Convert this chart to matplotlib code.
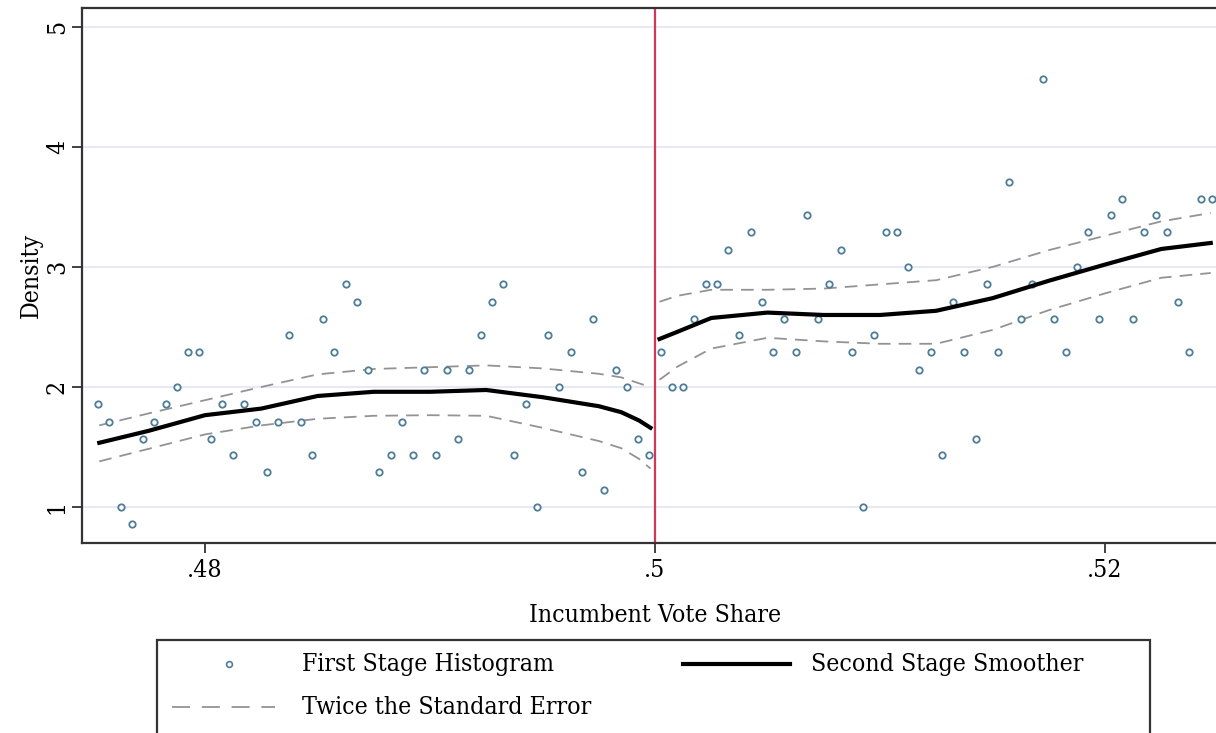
import numpy as np
import matplotlib.pyplot as plt
from matplotlib.lines import Line2D
from matplotlib.patches import Rectangle

W, H = 1216, 733

cutoff = 0.5
bin_width = 0.0005

# first stage: density in each 0.0005 bin, 50 bins on each side of the cutoff
hist_left = [1.86, 1.71, 1.00, 0.86, 1.57, 1.71, 1.86, 2.00, 2.29, 2.29,
             1.57, 1.86, 1.43, 1.86, 1.71, 1.29, 1.71, 2.43, 1.71, 1.43,
             2.57, 2.29, 2.86, 2.71, 2.14, 1.29, 1.43, 1.71, 1.43, 2.14,
             1.43, 2.14, 1.57, 2.14, 2.43, 2.71, 2.86, 1.43, 1.86, 1.00,
             2.43, 2.00, 2.29, 1.29, 2.57, 1.14, 2.14, 2.00, 1.57, 1.43]
hist_right = [2.29, 2.00, 2.00, 2.57, 2.86, 2.86, 3.14, 2.43, 3.29, 2.71,
              2.29, 2.57, 2.29, 3.43, 2.57, 2.86, 3.14, 2.29, 1.00, 2.43,
              3.29, 3.29, 3.00, 2.14, 2.29, 1.43, 2.71, 2.29, 1.57, 2.86,
              2.29, 3.71, 2.57, 2.86, 4.57, 2.57, 2.29, 3.00, 3.29, 2.57,
              3.43, 3.57, 2.57, 3.29, 3.43, 3.29, 2.71, 2.29, 3.57, 3.57]

# second stage: local smoother with +/- 2 s.e. bands
sm_x_left = [0.4753, 0.4775, 0.48, 0.4825, 0.485, 0.4875, 0.49, 0.4925,
             0.495, 0.4975, 0.4985, 0.4993, 0.4998]
sm_left = [1.535, 1.635, 1.765, 1.82, 1.925, 1.96, 1.96, 1.975,
           1.915, 1.84, 1.79, 1.72, 1.66]
hi_left = [1.68, 1.78, 1.89, 2.00, 2.105, 2.15, 2.165, 2.18,
           2.155, 2.11, 2.08, 2.03, 2.00]
lo_left = [1.38, 1.485, 1.605, 1.68, 1.735, 1.76, 1.765, 1.76,
           1.66, 1.55, 1.49, 1.40, 1.32]

sm_x_right = [0.5002, 0.501, 0.5025, 0.505, 0.5075, 0.51, 0.5125, 0.515,
              0.5175, 0.52, 0.5225, 0.5247]
sm_right = [2.40, 2.46, 2.575, 2.62, 2.60, 2.60, 2.635, 2.74,
            2.885, 3.02, 3.15, 3.20]
hi_right = [2.71, 2.76, 2.81, 2.81, 2.82, 2.855, 2.89, 3.00,
            3.14, 3.26, 3.38, 3.45]
lo_right = [2.06, 2.17, 2.32, 2.41, 2.38, 2.36, 2.36, 2.475,
            2.64, 2.78, 2.91, 2.95]

x_ticks = [0.48, 0.5, 0.52]
x_ticklabels = ['.48', '.5', '.52']
y_ticks = [1, 2, 3, 4, 5]

dot_color = '#4e7d98'
band_color = '#939393'
cut_color = '#d4365a'
grid_color = '#e9e8f5'
frame_color = '#333333'
font = dict(family='DejaVu Serif', stretch='condensed', size=17.8)

n = len(hist_left)
x_left = cutoff - bin_width * (np.arange(n)[::-1] + 0.5)
x_right = cutoff + bin_width * (np.arange(n) + 0.5)

fig = plt.figure(figsize=(W / 100, H / 100), dpi=100)
ax = fig.add_axes([82 / W, (H - 543) / H, (1228 - 82) / W, 535 / H])

for y in y_ticks:
    ax.axhline(y, color=grid_color, lw=1.5, zorder=0)
ax.axvline(cutoff, color=cut_color, lw=1.6, zorder=1)

dash = (0, (7, 4.5))
for xs, lo, hi in [(sm_x_left, lo_left, hi_left), (sm_x_right, lo_right, hi_right)]:
    ax.plot(xs, hi, color=band_color, lw=1.3, ls=dash, zorder=2)
    ax.plot(xs, lo, color=band_color, lw=1.3, ls=dash, zorder=2)

for xs, ys in [(x_left, hist_left), (x_right, hist_right)]:
    ax.plot(xs, ys, ls='none', marker='o', ms=4.6, mfc='white',
            mec=dot_color, mew=1.3, zorder=3)

ax.plot(sm_x_left, sm_left, color='black', lw=3.0, zorder=4)
ax.plot(sm_x_right, sm_right, color='black', lw=3.0, zorder=4)

ax.set_xlim(0.474533, 0.525467)
ax.set_ylim(0.70, 5.158)
ax.set_xticks(x_ticks)
ax.set_xticklabels(x_ticklabels, **font)
ax.set_yticks(y_ticks)
ax.set_yticklabels([str(v) for v in y_ticks], rotation=90, va='center', **font)
ax.tick_params(axis='both', length=7.5, width=1.3, color=frame_color, direction='out')
ax.tick_params(axis='y', pad=2)
ax.tick_params(axis='x', pad=4)
for s in ax.spines.values():
    s.set_color(frame_color)
    s.set_linewidth(1.6)

ax.set_xlabel('Incumbent Vote Share', labelpad=16, **font)
ax.set_ylabel('Density', labelpad=2, **font)


def fx(px):
    return px / W


def fy(py):
    return 1 - py / H


# legend box below the plot
fig.add_artist(Rectangle((fx(157), fy(745)), fx(1150) - fx(157), fy(640) - fy(745),
                         transform=fig.transFigure, fill=False,
                         edgecolor=frame_color, lw=1.6))
fig.add_artist(Line2D([fx(229)], [fy(664)], transform=fig.transFigure, ls='none',
                      marker='o', ms=4.2, mfc='white', mec=dot_color, mew=1.2))
fig.add_artist(Line2D([fx(683), fx(790)], [fy(664)] * 2, transform=fig.transFigure,
                      color='black', lw=3.0))
fig.add_artist(Line2D([fx(172), fx(275)], [fy(707)] * 2, transform=fig.transFigure,
                      color=band_color, lw=1.3, ls=(0, (10, 6.5))))
fig.text(fx(302), fy(664), 'First Stage Histogram', va='center', **font)
fig.text(fx(811), fy(664), 'Second Stage Smoother', va='center', **font)
fig.text(fx(302), fy(707), 'Twice the Standard Error', va='center', **font)

fig.savefig('out.png', dpi=100)
